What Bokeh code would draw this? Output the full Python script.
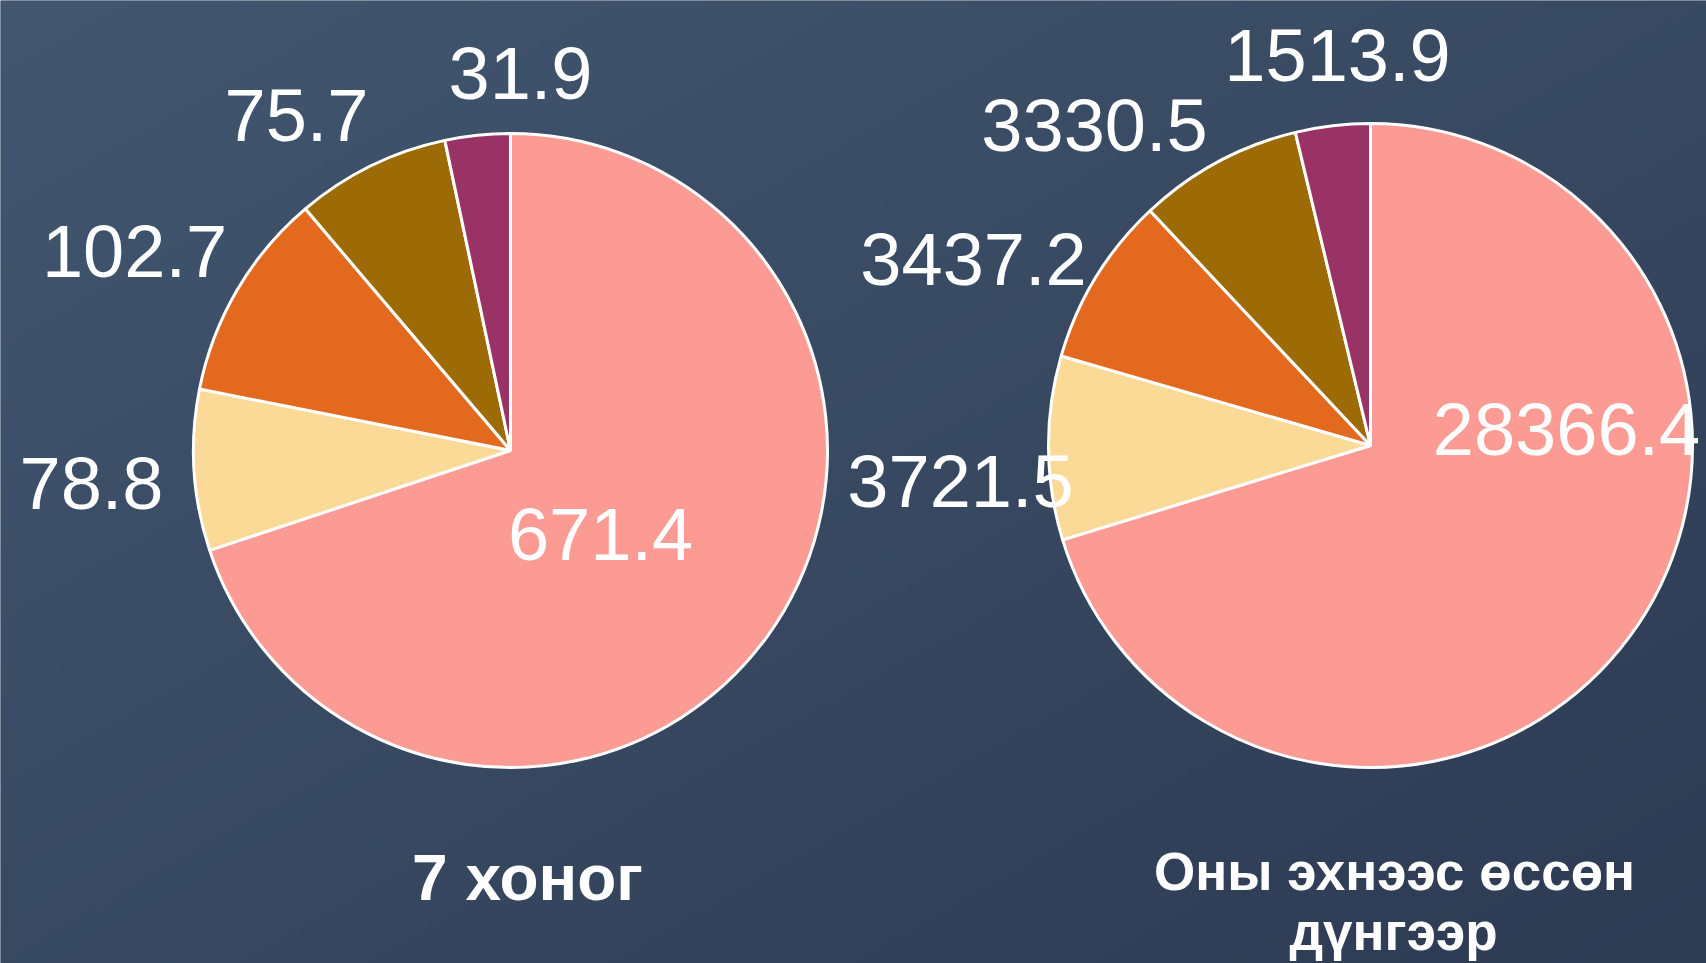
import numpy as np
from bokeh.plotting import figure
from bokeh.models import Range1d, ColumnDataSource
from bokeh.core.properties import value
from bokeh.embed import file_html
from bokeh.resources import INLINE

# ---- data ----
slice_colors = ["#FC9B93", "#FBD996", "#E2691E", "#9C6B05", "#993366"]
week_values = [671.4, 78.8, 102.7, 75.7, 31.9]
ytd_values = [28366.4, 3721.5, 3437.2, 3330.5, 1513.9]
week_title = "7 хоног"
ytd_title = ["Оны эхнээс өссөн", "дүнгээр"]

# ---- layout (pixels, measured from the top-left of the picture) ----
W, H = 1706, 963
FONT = "Liberation Sans"
LABEL_FS = 74
BASE_K = 0.37  # baseline correction (fraction of font size)


def ty(top_y, fs):
    return H - top_y + BASE_K * fs


pies = [
    dict(values=week_values, cx=510, cy=450, r=317,
         label_xy=[(600, 561), (91, 510), (134, 278), (296, 142), (520, 100)]),
    dict(values=ytd_values, cx=1370, cy=445, r=322,
         label_xy=[(1566, 456), (960, 508), (973, 286), (1094, 152), (1337, 82)]),
]

p = figure(width=W, height=H, output_backend="svg", toolbar_location=None,
           x_range=Range1d(0, W), y_range=Range1d(0, H), min_border=0)
p.axis.visible = False
p.grid.visible = False
p.outline_line_color = None
p.background_fill_color = "#384A62"
p.border_fill_color = "#384A62"

# diagonal gradient background
gh, gw = 193, 342
yy, xx = np.mgrid[0:gh, 0:gw]
t = (xx / (gw - 1) + (gh - 1 - yy) / (gh - 1)) / 2.0  # image row 0 is bottom
c0 = np.array([0x43, 0x57, 0x70], dtype=float)  # top-left
c1 = np.array([0x2D, 0x3B, 0x53], dtype=float)  # bottom-right
img = np.empty((gh, gw), dtype=np.uint32)
view = img.view(dtype=np.uint8).reshape((gh, gw, 4))
for k in range(3):
    view[:, :, k] = (c0[k] + (c1[k] - c0[k]) * t).astype(np.uint8)
view[:, :, 3] = 255
p.image_rgba(image=[img], x=0, y=0, dw=W, dh=H)

for pie in pies:
    vals = np.array(pie["values"], dtype=float)
    frac = vals / vals.sum()
    cum = np.concatenate([[0.0], np.cumsum(frac)])
    start = np.pi / 2 - cum[:-1] * 2 * np.pi
    end = np.pi / 2 - cum[1:] * 2 * np.pi
    src = ColumnDataSource(dict(start=start, end=end, color=slice_colors))
    p.wedge(x=pie["cx"], y=H - pie["cy"], radius=pie["r"], start_angle="start",
            end_angle="end", direction="clock", fill_color="color",
            line_color="white", line_width=3, source=src)
    lx = [xy[0] for xy in pie["label_xy"]]
    ly = [ty(xy[1], LABEL_FS) for xy in pie["label_xy"]]
    txt = [f"{v:.1f}" for v in pie["values"]]
    p.text(x=lx, y=ly, text=txt, text_font=value(FONT),
           text_font_size=f"{LABEL_FS}px",
           text_color="white", text_align="center", text_baseline="alphabetic")

p.text(x=[527], y=[ty(901, 64)], text=[week_title], text_font=value(FONT),
       text_font_size="64px", text_font_style="bold", text_color="white",
       text_align="center", text_baseline="alphabetic")
p.text(x=[1394, 1393], y=[ty(891, 53), ty(951, 53)], text=ytd_title,
       text_font=value(FONT),
       text_font_size="53px", text_font_style="bold", text_color="white",
       text_align="center", text_baseline="alphabetic")

open("out.html", "w").write(file_html(p, INLINE))
